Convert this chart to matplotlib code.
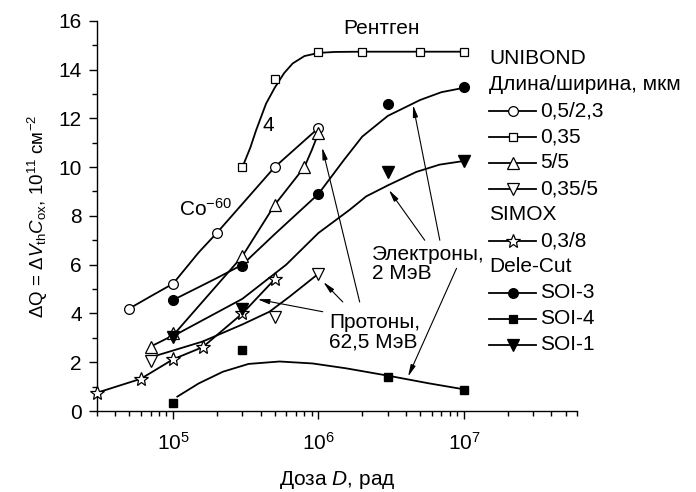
import matplotlib
matplotlib.use('Agg')
import matplotlib.pyplot as plt
from matplotlib.ticker import LogLocator, MultipleLocator, NullFormatter, FixedLocator
from matplotlib.lines import Line2D

plt.rcParams['font.family'] = ['Liberation Sans', 'DejaVu Sans']
plt.rcParams['mathtext.fontset'] = 'custom'
plt.rcParams['mathtext.rm'] = 'Liberation Sans'
plt.rcParams['mathtext.it'] = 'Liberation Sans:italic'
plt.rcParams['mathtext.bf'] = 'Liberation Sans:bold'

# UNIBOND, 0,5/2,3 (Co-60)
circ_dose = [5e4, 1e5, 2e5, 5e5, 1e6]
circ_dq = [4.2, 5.22, 7.3, 10.0, 11.6]
circ_fit_dose = [5e4, 7e4, 1e5, 1.5e5, 2e5, 5e5, 1e6]
circ_fit_dq = [4.2, 4.7, 5.22, 6.5, 7.3, 10.0, 11.6]

# UNIBOND, 0,35 (X-ray)
sq_dose = [3e5, 5e5, 1e6, 2e6, 5e6, 1e7]
sq_dq = [10.0, 13.6, 14.7, 14.7, 14.7, 14.7]
sq_fit_dose = [3e5, 3.4e5, 3.72e5, 4.36e5, 5e5, 5.8e5, 6.65e5, 8e5, 1e6, 1.3e6, 2e6, 1e7]
sq_fit_dq = [10.0, 10.8, 11.5, 12.6, 13.25, 13.85, 14.25, 14.55, 14.68, 14.72, 14.73, 14.73]

# UNIBOND, 5/5
tri_dose = [7e4, 1e5, 3e5, 5e5, 8e5, 1e6]
tri_dq = [2.64, 3.2, 6.35, 8.45, 10.0, 11.4]
tri_fit_dose = [7e4, 1e5, 3e5, 5e5, 8e5, 9e5, 1e6]
tri_fit_dq = [2.64, 3.1, 6.35, 8.45, 10.0, 10.7, 11.4]

# UNIBOND, 0,35/5
tdn_dose = [7e4, 5e5, 1e6]
tdn_dq = [2.05, 3.85, 5.63]
tdn_fit_dose = [7e4, 1e5, 1.6e5, 3e5, 4.6e5, 6.3e5, 1e6]
tdn_fit_dq = [2.2, 2.48, 2.85, 3.55, 4.07, 4.68, 5.63]

# SIMOX, 0,3/8
star_dose = [3e4, 6e4, 1e5, 1.6e5, 3e5, 5e5]
star_dq = [0.75, 1.32, 2.12, 2.62, 4.0, 5.4]

# Dele-Cut SOI-3
soi3_dose = [1e5, 3e5, 1e6, 3e6, 1e7]
soi3_dq = [4.55, 5.94, 8.9, 12.57, 13.28]
soi3_fit_dose = [1e5, 2e5, 3e5, 5e5, 1e6, 1.5e6, 2e6, 3e6, 5e6, 7e6, 1e7]
soi3_fit_dq = [4.55, 5.45, 6.0, 7.25, 8.9, 10.3, 11.25, 12.1, 12.75, 13.07, 13.25]

# Dele-Cut SOI-4
soi4_dose = [1e5, 3e5, 3e6, 1e7]
soi4_dq = [0.34, 2.5, 1.4, 0.85]
soi4_fit_dose = [1.07e5, 1.5e5, 2.2e5, 3.3e5, 5.4e5, 9.1e5, 1.55e6, 3e6, 5.8e6, 1e7]
soi4_fit_dq = [0.59, 1.13, 1.61, 1.93, 2.03, 1.95, 1.75, 1.45, 1.13, 0.89]

# Dele-Cut SOI-1
soi1_dose = [1e5, 3e5, 3e6, 1e7]
soi1_dq = [3.05, 4.2, 9.8, 10.25]
soi1_fit_dose = [1e5, 3e5, 6e5, 1e6, 1.64e6, 2.13e6, 3e6, 4.7e6, 6.8e6, 1e7]
soi1_fit_dq = [3.07, 4.6, 6.0, 7.3, 8.25, 8.8, 9.25, 9.8, 10.1, 10.25]

fig = plt.figure(figsize=(6.96, 4.92), dpi=100)
ax = fig.add_axes([0.1394, 0.1646, 0.6897, 0.7933])

lw = 1.3
ms = 7
ax.plot(circ_fit_dose, circ_fit_dq, color='black', lw=lw)
ax.plot(sq_fit_dose, sq_fit_dq, color='black', lw=lw)
ax.plot(tri_fit_dose, tri_fit_dq, color='black', lw=lw)
ax.plot(tdn_fit_dose, tdn_fit_dq, color='black', lw=lw)
ax.plot(star_dose, star_dq, color='black', lw=lw, clip_on=False)
ax.plot(soi3_fit_dose, soi3_fit_dq, color='black', lw=lw)
ax.plot(soi4_fit_dose, soi4_fit_dq, color='black', lw=lw)
ax.plot(soi1_fit_dose, soi1_fit_dq, color='black', lw=lw)

open_kw = dict(ls='none', mfc='white', mec='black', mew=0.9, clip_on=False, zorder=5)
fill_kw = dict(ls='none', color='black', clip_on=False, zorder=5)
ax.plot(circ_dose, circ_dq, marker='o', ms=ms, **open_kw)
ax.plot(sq_dose, sq_dq, marker='s', ms=6, **open_kw)
ax.plot(tri_dose, tri_dq, marker='^', ms=8, **open_kw)
ax.plot(tdn_dose, tdn_dq, marker='v', ms=8, **open_kw)
ax.plot(star_dose, star_dq, marker='*', ms=10, **open_kw)
ax.plot(soi3_dose, soi3_dq, marker='o', ms=ms, **fill_kw)
ax.plot(soi4_dose, soi4_dq, marker='s', ms=6, **fill_kw)
ax.plot(soi1_dose, soi1_dq, marker='v', ms=8, **fill_kw)

# annotation arrows (tail -> head)
arrows = [
    ((5.38e6, 7.0), (3.05e6, 9.06)),
    ((6.83e6, 7.0), (4.47e6, 12.54)),
    ((8.9e6, 5.85), (4.13e6, 1.41)),
    ((1.07e6, 4.07), (3.81e5, 4.58)),
    ((1.47e6, 4.47), (1.08e6, 5.29)),
    ((1.92e6, 4.47), (1.06e6, 10.8)),
]
for tail, head in arrows:
    ax.annotate('', xy=head, xytext=tail,
                arrowprops=dict(arrowstyle='-|>,head_length=0.7,head_width=0.15',
                                lw=0.8, color='black', shrinkA=0, shrinkB=0))

fs = 15
ax.text(2.72e6, 15.7, 'Рентген', fontsize=fs, ha='center', va='center')
ax.text(4.5e5, 11.7, '4', fontsize=fs, ha='center', va='center')
ax.text(1.1e5, 8.3, 'Co$^{-60}$', fontsize=fs, ha='left', va='center')
ax.text(2.32e6, 6.03, 'Электроны,\n2 МэВ', fontsize=fs, ha='left', va='center',
        linespacing=1.05)
ax.text(1.19e6, 3.24, 'Протоны,\n62,5 МэВ', fontsize=fs, ha='left', va='center',
        linespacing=1.05)

ax.set_xscale('log')
ax.set_xlim(3e4, 6e7)
ax.set_ylim(0, 16)
ax.xaxis.set_major_locator(FixedLocator([1e5, 1e6, 1e7]))
ax.xaxis.set_minor_locator(LogLocator(base=10, subs=range(2, 10), numticks=20))
ax.xaxis.set_minor_formatter(NullFormatter())
ax.set_xticklabels(['$10^{5}$', '$10^{6}$', '$10^{7}$'])
ax.yaxis.set_major_locator(MultipleLocator(2))
ax.yaxis.set_minor_locator(MultipleLocator(1))
ax.tick_params(which='major', direction='out', length=6, width=1.0, labelsize=15, pad=5)
ax.tick_params(which='minor', direction='out', length=3.5, width=1.0)
ax.tick_params(axis='x', which='major', pad=9)
for s in ['top', 'right']:
    ax.spines[s].set_visible(False)
for s in ['left', 'bottom']:
    ax.spines[s].set_linewidth(1.0)

ax.set_xlabel('Доза $\\mathit{D}$, рад', fontsize=fs, labelpad=11)
ax.set_ylabel('ΔQ = Δ$\\mathit{V}_{\\mathrm{th}}\\mathit{C}_{\\mathrm{ox}}$, 10$^{11}$ см$^{-2}$',
              fontsize=13.5, labelpad=6)

# legend block on the right
W, H = 696, 492
def fx(px):
    return px / W
def fy(py):
    return 1 - py / H

headers = [(59, 'UNIBOND'), (85, 'Длина/ширина, мкм'), (215, 'SIMOX'), (267, 'Dele-Cut')]
for py, txt in headers:
    fig.text(fx(489), fy(py), txt, fontsize=fs, ha='left', va='center')

entries = [
    (111, '0,5/2,3', 'o', 'white', 7),
    (137, '0,35', 's', 'white', 6),
    (163, '5/5', '^', 'white', 8),
    (189, '0,35/5', 'v', 'white', 8),
    (241, '0,3/8', '*', 'white', 10),
    (293, 'SOI-3', 'o', 'black', 7),
    (319, 'SOI-4', 's', 'black', 6),
    (345, 'SOI-1', 'v', 'black', 8),
]
for py, txt, mk, face, size in entries:
    fig.add_artist(Line2D([fx(489), fx(536)], [fy(py), fy(py)], color='black', lw=lw,
                          transform=fig.transFigure))
    fig.add_artist(Line2D([fx(512.5)], [fy(py)], marker=mk, ms=size, mfc=face, mec='black',
                          mew=0.9, ls='none', transform=fig.transFigure))
    fig.text(fx(540), fy(py), txt, fontsize=fs, ha='left', va='center')

fig.savefig('out.png', dpi=100)
